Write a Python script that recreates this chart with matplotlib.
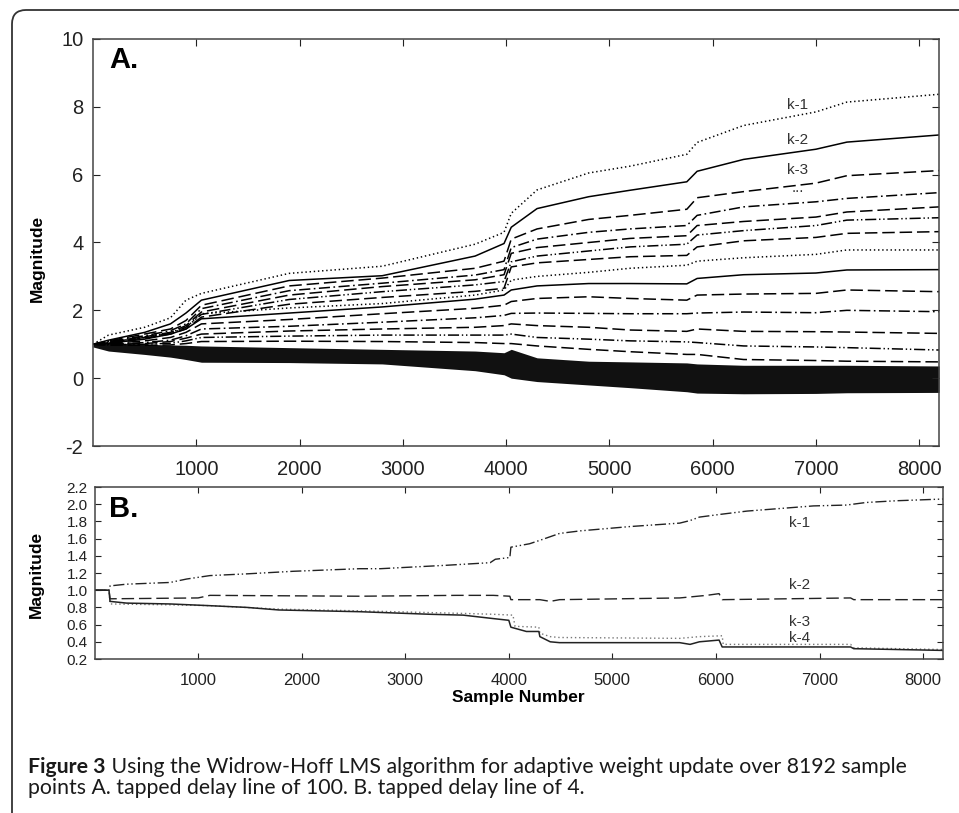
import numpy as np
import matplotlib.pyplot as plt
from matplotlib.patches import FancyBboxPatch
from matplotlib.transforms import IdentityTransform

plt.rcParams['font.family'] = ['Liberation Sans', 'DejaVu Sans']
plt.rcParams['lines.scale_dashes'] = False
plt.rcParams['axes.unicode_minus'] = False

# ---- panel A: tapped delay line of 100 (visible tracks) ----
samples_a = [0, 150, 500, 750, 900, 1050, 1900, 2800, 3700, 3980, 4050, 4300,
             4800, 5200, 5750, 5850, 6300, 7000, 7300, 8192]
tap01 = [1.0, 1.27, 1.5, 1.78, 2.3, 2.5, 3.09, 3.3, 3.95, 4.3, 4.86, 5.55, 6.05, 6.25, 6.6, 6.95, 7.45, 7.85, 8.14, 8.37]
tap02 = [1.0, 1.12, 1.35, 1.6, 1.92, 2.3, 2.88, 3.02, 3.6, 3.97, 4.45, 5.0, 5.35, 5.54, 5.79, 6.1, 6.45, 6.75, 6.96, 7.17]
tap03 = [1.0, 1.1, 1.3, 1.45, 1.7, 2.15, 2.72, 2.95, 3.24, 3.45, 4.1, 4.4, 4.68, 4.8, 4.98, 5.32, 5.5, 5.75, 5.97, 6.12]
tap04 = [1.0, 1.08, 1.25, 1.4, 1.6, 2.05, 2.58, 2.8, 3.04, 3.2, 3.85, 4.1, 4.3, 4.4, 4.5, 4.8, 5.05, 5.2, 5.3, 5.47]
tap05 = [1.0, 1.07, 1.22, 1.35, 1.55, 1.95, 2.45, 2.7, 2.9, 3.05, 3.68, 3.85, 4.0, 4.12, 4.2, 4.5, 4.62, 4.75, 4.9, 5.05]
tap06 = [1.0, 1.06, 1.2, 1.32, 1.5, 1.88, 2.32, 2.55, 2.75, 2.85, 3.43, 3.6, 3.75, 3.87, 3.95, 4.22, 4.35, 4.5, 4.66, 4.73]
tap07 = [1.0, 1.05, 1.18, 1.3, 1.45, 1.8, 2.18, 2.38, 2.56, 2.65, 3.28, 3.4, 3.5, 3.58, 3.62, 3.87, 4.05, 4.15, 4.27, 4.32]
tap08 = [1.0, 1.05, 1.2, 1.35, 1.5, 1.9, 2.07, 2.2, 2.45, 2.6, 2.89, 3.0, 3.12, 3.24, 3.33, 3.45, 3.55, 3.65, 3.78, 3.78]
tap09 = [1.0, 1.03, 1.15, 1.3, 1.45, 1.75, 1.92, 2.1, 2.33, 2.45, 2.6, 2.72, 2.79, 2.79, 2.78, 2.94, 3.05, 3.1, 3.19, 3.2]
tap10 = [1.0, 1.02, 1.1, 1.2, 1.35, 1.6, 1.73, 1.9, 2.06, 2.15, 2.26, 2.35, 2.4, 2.35, 2.3, 2.45, 2.48, 2.5, 2.6, 2.55]
tap11 = [1.0, 1.0, 1.05, 1.12, 1.25, 1.45, 1.53, 1.65, 1.78, 1.85, 1.91, 1.92, 1.91, 1.9, 1.9, 1.92, 1.95, 1.93, 2.0, 1.96]
tap12 = [1.0, 1.0, 1.02, 1.08, 1.18, 1.3, 1.39, 1.45, 1.5, 1.55, 1.6, 1.55, 1.5, 1.42, 1.38, 1.45, 1.38, 1.37, 1.36, 1.32]
tap13 = [1.0, 0.98, 1.0, 1.03, 1.1, 1.2, 1.24, 1.27, 1.27, 1.27, 1.3, 1.2, 1.15, 1.1, 1.07, 1.05, 0.95, 0.92, 0.9, 0.83]
tap14 = [1.0, 0.97, 0.97, 0.98, 1.02, 1.08, 1.09, 1.08, 1.05, 1.02, 1.02, 0.95, 0.85, 0.78, 0.7, 0.7, 0.55, 0.52, 0.5, 0.48]
# envelope of the remaining taps, which merge into a solid band
band_top = [1.05, 1.05, 1.0, 0.98, 0.97, 0.95, 0.9, 0.85, 0.8, 0.75, 0.85, 0.6, 0.5, 0.48, 0.45, 0.42, 0.38, 0.38, 0.38, 0.36]
band_bot = [0.92, 0.8, 0.7, 0.62, 0.55, 0.47, 0.46, 0.42, 0.22, 0.1, 0.0, -0.1, -0.2, -0.28, -0.4, -0.44, -0.46, -0.45, -0.43, -0.42]

labels_a = ['k-1', 'k-2', 'k-3', '...']
labels_a_y = [8.05, 7.02, 6.13, 5.6]

# ---- panel B: tapped delay line of 4 ----
b1_x = [0, 140, 150, 310, 730, 890, 1115, 1470, 1920, 2560, 2760, 3400, 3820, 3870, 4010, 4020,
        4200, 4300, 4490, 4690, 5170, 5650, 5750, 5840, 6030, 6300, 6620, 6940, 7260, 7450, 7740, 8192]
b1_y = [1.0, 1.0, 1.05, 1.07, 1.09, 1.13, 1.17, 1.19, 1.22, 1.25, 1.25, 1.29, 1.32, 1.36, 1.38, 1.50,
        1.54, 1.58, 1.66, 1.69, 1.74, 1.78, 1.81, 1.85, 1.88, 1.92, 1.95, 1.98, 1.99, 2.02, 2.04, 2.06]
b2_x = [0, 140, 150, 1000, 1115, 2560, 3500, 3850, 4010, 4020, 4300, 4400, 4490, 5650, 5910, 6030, 6060, 7300, 7330, 8192]
b2_y = [1.0, 1.0, 0.90, 0.91, 0.94, 0.93, 0.94, 0.94, 0.93, 0.89, 0.89, 0.87, 0.89, 0.91, 0.94, 0.96, 0.89, 0.91, 0.89, 0.89]
b3_x = [0, 140, 150, 730, 1115, 1780, 2560, 3560, 3850, 4040, 4060, 4290, 4300, 4400, 4490, 5650, 5840, 6060, 6070, 7300, 7330, 8192]
b3_y = [1.0, 1.0, 0.84, 0.83, 0.82, 0.78, 0.76, 0.73, 0.72, 0.71, 0.58, 0.57, 0.50, 0.46, 0.45, 0.44, 0.46, 0.47, 0.37, 0.37, 0.33, 0.31]
b4_x = [0, 140, 150, 310, 730, 1115, 1470, 1780, 2560, 3240, 3560, 3850, 4000, 4020, 4170, 4290, 4300,
        4400, 4490, 5650, 5750, 5840, 6030, 6060, 7300, 7330, 8192]
b4_y = [1.0, 1.0, 0.87, 0.85, 0.84, 0.82, 0.80, 0.77, 0.75, 0.72, 0.71, 0.67, 0.65, 0.57, 0.52, 0.52, 0.46,
        0.40, 0.39, 0.39, 0.37, 0.40, 0.42, 0.34, 0.34, 0.32, 0.30]

labels_b = ['k-1', 'k-2', 'k-3', 'k-4']
labels_b_y = [1.78, 1.056, 0.63, 0.45]

dot = (0, (1, 2))
dash = (0, (9, 3.5))
dashdot = (0, (8, 2.5, 1.2, 2.5))
dashdotdot = (0, (8, 2, 1, 2, 1, 2))
cycle = [dot, '-', dash, dashdot, dash, dashdotdot, dash]

fig = plt.figure(figsize=(9.59, 8.13), dpi=100)

# rounded frame around the figure panel
fig.add_artist(FancyBboxPatch((12, -40), 1000, 843, boxstyle='round,pad=0,rounding_size=14',
                              transform=IdentityTransform(), fill=False, lw=1.3, ec='#333333'))

axA = fig.add_axes([93 / 959, 1 - 446 / 813, 846 / 959, 407 / 813])
taps = [tap01, tap02, tap03, tap04, tap05, tap06, tap07, tap08, tap09, tap10, tap11, tap12, tap13, tap14]
axA.fill_between(samples_a, band_bot, band_top, color='#111111', lw=0)
for i, t in enumerate(taps):
    axA.plot(samples_a, t, color='black', lw=1.1, ls=cycle[i % 7])
for lab, yy in zip(labels_a, labels_a_y):
    axA.text(6825, yy, lab, ha='center', va='center', fontsize=11, color='#333333')
axA.text(0.019, 0.982, 'A.', transform=axA.transAxes, ha='left', va='top', fontsize=21, fontweight='bold')
axA.set_xlim(0, 8192)
axA.set_ylim(-2, 10)
axA.set_xticks([1000, 2000, 3000, 4000, 5000, 6000, 7000, 8000])
axA.set_yticks([-2, 0, 2, 4, 6, 8, 10])
axA.tick_params(axis='x', direction='in', top=True, length=5, labelsize=14.5, pad=10, colors='#222222')
axA.tick_params(axis='y', direction='in', right=True, length=5, labelsize=14.5, pad=7, colors='#222222')
axA.set_ylabel('Magnitude', fontsize=12.5, fontweight='bold')
axA.yaxis.set_label_coords(-0.057, 0.462)
for s in axA.spines.values():
    s.set_color('#444444')
    s.set_linewidth(1.1)

axB = fig.add_axes([94.5 / 959, 1 - 659 / 813, 848.5 / 959, 172 / 813])
axB.plot(b1_x, b1_y, color='#222222', lw=1.0, ls=dashdotdot)
axB.plot(b2_x, b2_y, color='#222222', lw=1.0, ls=dash)
axB.plot(b3_x, b3_y, color='#777777', lw=1.0, ls=dot)
axB.plot(b4_x, b4_y, color='#222222', lw=1.1, ls='-')
for lab, yy in zip(labels_b, labels_b_y):
    axB.text(6805, yy, lab, ha='center', va='center', fontsize=11, color='#333333')
axB.text(0.017, 0.955, 'B.', transform=axB.transAxes, ha='left', va='top', fontsize=21, fontweight='bold')
axB.set_xlim(0, 8192)
axB.set_ylim(0.2, 2.2)
axB.set_xticks([1000, 2000, 3000, 4000, 5000, 6000, 7000, 8000])
axB.set_yticks(np.arange(0.2, 2.21, 0.2))
axB.set_yticklabels(['%.1f' % v for v in np.arange(0.2, 2.21, 0.2)])
axB.tick_params(axis='x', direction='in', top=True, length=4, labelsize=12, pad=10, colors='#222222')
axB.tick_params(axis='y', direction='in', right=True, length=4, labelsize=11, pad=5, colors='#222222')
axB.set_ylabel('Magnitude', fontsize=12.5, fontweight='bold')
axB.yaxis.set_label_coords(-0.0595, 0.491)
axB.set_xlabel('Sample Number', fontsize=12.5, fontweight='bold')
axB.xaxis.set_label_coords(0.5, -0.221)
axB.xaxis.label.set_va('center')
for s in axB.spines.values():
    s.set_color('#444444')
    s.set_linewidth(1.1)

# caption
cap_font = ['Lato', 'DejaVu Sans']
t1 = fig.text(28 / 959, 1 - 773 / 813, 'Figure 3', fontsize=15.3, fontweight='bold',
              family=cap_font, color='#1a1a1a', va='baseline')
fig.canvas.draw()
bb = t1.get_window_extent()
fig.text(bb.x1 / 959, 1 - 773 / 813,
         ' Using the Widrow-Hoff LMS algorithm for adaptive weight update over 8192 sample',
         fontsize=15.3, family=cap_font, color='#1a1a1a', va='baseline')
fig.text(28 / 959, 1 - 794 / 813, 'points A. tapped delay line of 100. B. tapped delay line of 4.',
         fontsize=15.3, family=cap_font, color='#1a1a1a', va='baseline')

fig.savefig('out.png', dpi=100)
